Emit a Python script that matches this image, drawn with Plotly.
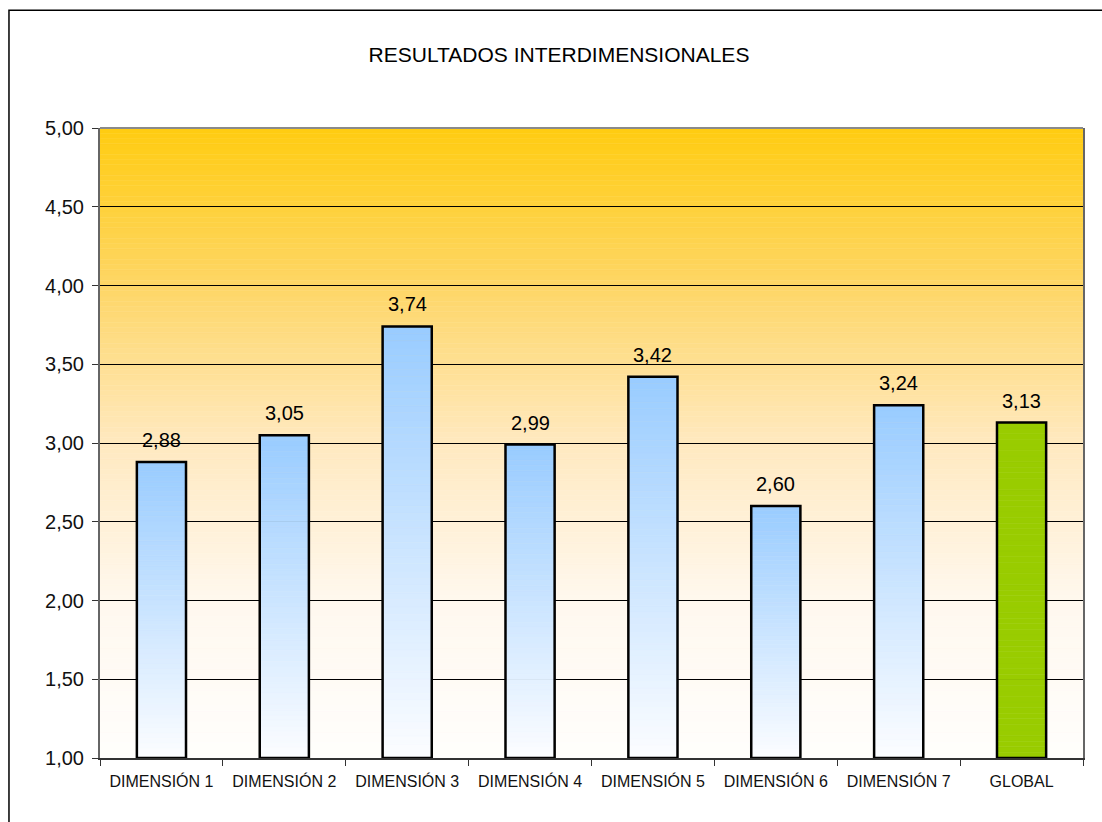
import plotly.graph_objects as go

categories = ["DIMENSIÓN 1", "DIMENSIÓN 2", "DIMENSIÓN 3", "DIMENSIÓN 4",
              "DIMENSIÓN 5", "DIMENSIÓN 6", "DIMENSIÓN 7", "GLOBAL"]
values = [2.88, 3.05, 3.74, 2.99, 3.42, 2.60, 3.24, 3.13]
gradient_bar = [True, True, True, True, True, True, True, False]
title_text = "RESULTADOS INTERDIMENSIONALES"

Y_MIN, Y_MAX = 1.0, 5.0
FONT = "Liberation Sans, Arial, sans-serif"
BAR_W = 0.4

BLUE_TOP = (153, 204, 255)
BLUE_BOT = (252, 253, 255)
GREEN = "#99CC00"

BG_STOPS = [(0.0, (255, 204, 17)), (0.25, (254, 214, 102)), (0.5, (255, 233, 192)),
            (0.75, (255, 248, 238)), (1.0, (255, 254, 252))]


def lerp(a, b, t):
    return tuple(round(a[i] + (b[i] - a[i]) * t) for i in range(3))


def bg_color(t):
    for (t0, c0), (t1, c1) in zip(BG_STOPS[:-1], BG_STOPS[1:]):
        if t0 <= t <= t1:
            return lerp(c0, c1, (t - t0) / (t1 - t0))
    return BG_STOPS[-1][1]


def rgb(c):
    return "rgb(%d,%d,%d)" % c


fig = go.Figure()

# gradient bars built from stacked segments
N = 60
for i in range(N):
    bases, heights, colors = [], [], []
    for v, g in zip(values, gradient_bar):
        h = (v - Y_MIN) / N
        bases.append(Y_MIN + h * i)
        heights.append(h)
        if g:
            t = (i + 0.5) / N  # 0 bottom -> 1 top
            colors.append(rgb(lerp(BLUE_BOT, BLUE_TOP, t)))
        else:
            colors.append(GREEN)
    fig.add_trace(go.Bar(x=categories, y=heights, base=bases, width=BAR_W,
                         marker=dict(color=colors, line=dict(width=0.6, color=colors)),
                         hoverinfo="skip", showlegend=False))

# outline
fig.add_trace(go.Bar(x=categories, y=[v - Y_MIN for v in values], base=[Y_MIN] * len(values),
                     width=BAR_W,
                     marker=dict(color="rgba(0,0,0,0)", line=dict(width=2.5, color="#000")),
                     showlegend=False))

# background gradient
shapes = []
M = 120
for j in range(M):
    y0 = Y_MIN + (Y_MAX - Y_MIN) * j / M
    y1 = Y_MIN + (Y_MAX - Y_MIN) * (j + 1) / M
    t = 1 - (j + 0.5) / M  # 0 top -> 1 bottom
    c = rgb(bg_color(t))
    shapes.append(dict(type="rect", xref="paper", yref="y", x0=0, x1=1, y0=y0, y1=y1,
                       fillcolor=c, line=dict(width=0.5, color=c), layer="below"))

# plot-area top border
shapes.append(dict(type="line", xref="paper", yref="paper", x0=0, x1=1, y0=1, y1=1,
                   line=dict(color="#8a8a8a", width=2)))
# outer chart border (left/top visible)
shapes.append(dict(type="rect", xref="paper", yref="paper", x0=-0.0926, x1=1.2, y0=-0.3, y1=1.187,
                   line=dict(color="#000", width=1.5), fillcolor="rgba(0,0,0,0)"))

annotations = []
for c, v in zip(categories, values):
    annotations.append(dict(x=c, y=v, xref="x", yref="y", text=f"{v:.2f}".replace(".", ","),
                            showarrow=False, yanchor="bottom", yshift=9,
                            font=dict(family=FONT, size=20, color="#000")))

fig.update_layout(
    width=1102, height=822,
    margin=dict(l=100, r=19, t=128, b=64),
    paper_bgcolor="white", plot_bgcolor="white",
    barmode="overlay", bargap=0.6,
    separators=",.",
    title=dict(text=title_text, x=559 / 1102, xref="container", xanchor="center",
               y=1 - 55 / 822, yref="container", yanchor="middle",
               font=dict(family=FONT, size=21, color="#000")),
    shapes=shapes, annotations=annotations,
    font=dict(family=FONT, color="#000"),
    xaxis=dict(type="category", showgrid=False, showline=True, linecolor="#333", linewidth=2,
               ticks="outside", tickson="boundaries", ticklen=6, tickcolor="#333",
               tickfont=dict(family=FONT, size=16, color="#111"), ticklabelstandoff=8,
               range=[-0.5, len(categories) - 0.5]),
    yaxis=dict(range=[Y_MIN, Y_MAX], dtick=0.5, tickformat=".2f", showgrid=True,
               gridcolor="#000", gridwidth=1, zeroline=False, showline=True,
               linecolor="#666", linewidth=2, mirror=True, ticks="outside", ticklen=6,
               tickcolor="#333", tickfont=dict(family=FONT, size=20, color="#111"),
               ticklabelstandoff=4),
)

fig.write_html("out.html")
